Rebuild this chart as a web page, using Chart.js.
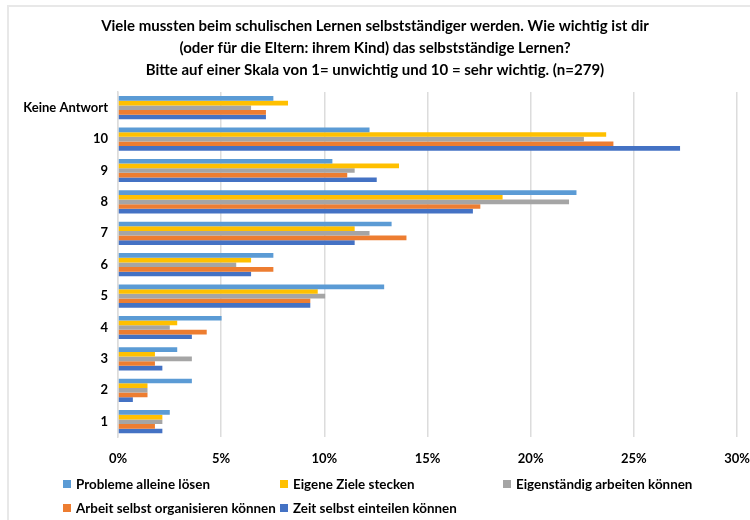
<!DOCTYPE html>
<html>
<head>
<meta charset="utf-8">
<script src="https://cdn.jsdelivr.net/npm/chart.js@4"></script>
<style>
  html, body { margin: 0; padding: 0; background: #fff; }
  #wrap { position: relative; width: 750px; height: 520px; overflow: hidden; }
  #frame { position: absolute; left: 7px; top: 5px; width: 800px; height: 600px;
           border-top: 2px solid #e8e8e8; border-left: 2px solid #e8e8e8; }
  canvas { position: absolute; left: 0; top: 0; }
  #legend { position: absolute; left: 63px; top: 475px; width: 680px;
            display: grid; grid-template-columns: 217px 223px 220px; row-gap: 6px;
            font: bold 13.4px Lato, "Open Sans", sans-serif; color: #000; }
  #legend .item { display: flex; align-items: center; white-space: nowrap; height: 18px; }
  #legend .box { width: 8px; height: 8px; margin-right: 5px; flex: none; }
</style>
</head>
<body>
<div id="wrap">
  <div id="frame"></div>
  <canvas id="chart" width="750" height="520"></canvas>
  <div id="legend"></div>
</div>
<script>
// Antwortkategorien (oben nach unten)
const categories = ["Keine Antwort", "10", "9", "8", "7", "6", "5", "4", "3", "2", "1"];

// Anteile in % (n=279)
const problemeLoesen   = [7.53, 12.19, 10.39, 22.22, 13.26, 7.53, 12.90, 5.02, 2.87, 3.58, 2.51];
const zieleStecken     = [8.24, 23.66, 13.62, 18.64, 11.47, 6.45, 9.68, 2.87, 1.79, 1.43, 2.15];
const eigenstaendig    = [6.45, 22.58, 11.47, 21.86, 12.19, 5.73, 10.04, 2.51, 3.58, 1.43, 2.15];
const arbeitOrganis    = [7.17, 24.01, 11.11, 17.56, 13.98, 7.53, 9.32, 4.30, 1.79, 1.43, 1.79];
const zeitEinteilen    = [7.17, 27.24, 12.54, 17.20, 11.47, 6.45, 9.32, 3.58, 2.15, 0.72, 2.15];

const seriesNames = [
  "Probleme alleine lösen",
  "Eigene Ziele stecken",
  "Eigenständig arbeiten können",
  "Arbeit selbst organisieren können",
  "Zeit selbst einteilen können"
];
const seriesColors = ["#5B9BD5", "#FFC000", "#A5A5A5", "#ED7D31", "#4472C4"];
const seriesData = [problemeLoesen, zieleStecken, eigenstaendig, arbeitOrganis, zeitEinteilen];

const xTicks = [0, 5, 10, 15, 20, 25, 30];

const FONT = "Lato, 'Open Sans', sans-serif";

const chart = new Chart(document.getElementById("chart"), {
  type: "bar",
  data: {
    labels: categories,
    datasets: seriesData.map((d, i) => ({
      label: seriesNames[i],
      data: d,
      backgroundColor: seriesColors[i],
      borderWidth: 0,
      barPercentage: 1,
      categoryPercentage: 0.74
    }))
  },
  options: {
    indexAxis: "y",
    responsive: false,
    animation: false,
    layout: { padding: { left: 0, right: 0, top: 0, bottom: 39 } },
    plugins: {
      legend: { display: false },
      tooltip: { enabled: false },
      title: {
        display: true,
        text: [
          "Viele mussten beim schulischen Lernen selbstständiger werden. Wie wichtig ist dir",
          "(oder für die Eltern: ihrem Kind) das selbstständige Lernen?",
          "Bitte auf einer Skala von 1= unwichtig und 10 = sehr wichtig. (n=279)"
        ],
        color: "#000",
        font: { family: FONT, size: 15, weight: "bold", lineHeight: 22 / 15 },
        padding: { top: 15, bottom: 11 }
      }
    },
    scales: {
      x: {
        min: 0,
        max: 30,
        afterBuildTicks: (scale) => { scale.ticks = xTicks.map(v => ({ value: v })); },
        afterFit: (scale) => { scale.paddingRight = 13; scale.paddingLeft = 0; },
        ticks: {
          padding: 14,
          color: "#000",
          font: { family: FONT, size: 13, weight: "bold" },
          callback: (v) => v + "%"
        },
        grid: { color: "#dcdcdc", lineWidth: 1.5, drawTicks: false },
        border: { display: false }
      },
      y: {
        afterFit: (scale) => { scale.width = 118; },
        ticks: {
          padding: 10,
          color: "#000",
          font: { family: FONT, size: 13, weight: "bold" }
        },
        grid: { display: false, drawTicks: false },
        border: { color: "#dcdcdc", width: 1.5 }
      }
    }
  }
});

// Legende im Excel-Raster (3 Spalten)
const legendEl = document.getElementById("legend");
chart.data.datasets.forEach((ds) => {
  const item = document.createElement("div");
  item.className = "item";
  const box = document.createElement("span");
  box.className = "box";
  box.style.background = ds.backgroundColor;
  item.appendChild(box);
  item.appendChild(document.createTextNode(ds.label));
  legendEl.appendChild(item);
});
</script>
</body>
</html>
